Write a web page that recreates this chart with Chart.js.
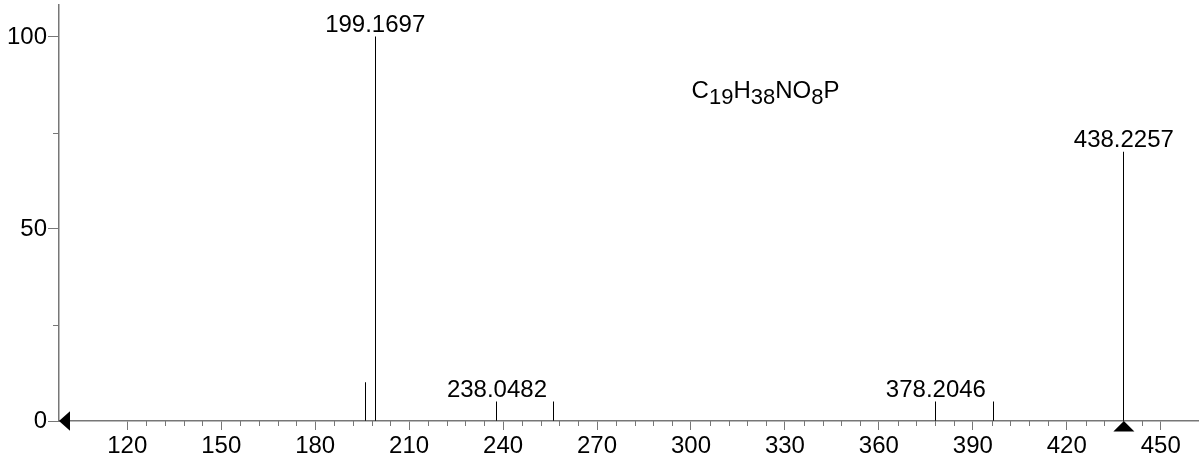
<!DOCTYPE html>
<html>
<head>
<meta charset="utf-8">
<script src="https://cdn.jsdelivr.net/npm/chart.js@4.4.1/dist/chart.umd.min.js"></script>
<style>
  html, body { margin: 0; padding: 0; background: #fff; }
  #wrap { width: 1200px; height: 465px; position: relative; }
</style>
</head>
<body>
<div id="wrap"><canvas id="c" width="1200" height="465"></canvas></div>
<script>
// ---- data ----
const mzValues     = [196.2, 199.1697, 238.0482, 256.2, 378.2046, 396.5, 438.2257];
const intensities  = [10, 100, 5, 5, 5, 5, 70];
const peakLabels   = ['', '199.1697', '238.0482', '', '378.2046', '', '438.2257'];
const xTickValues  = [120, 150, 180, 210, 240, 270, 300, 330, 360, 390, 420, 450];
const xMinorStep   = 6;
const yTickValues  = [0, 50, 100];
const yMinorValues = [25, 75];
const precursorMz  = 438.2257;
const formulaParts = [['C', false], ['19', true], ['H', false], ['38', true], ['NO', false], ['8', true], ['P', false]];
const formulaPos   = [300.2, 84];

const FONT = '"Liberation Sans", Arial, Helvetica, sans-serif';
const AXIS_COLOR = '#777777';

// keep the 1px peak bars crisp (snap thin bar rectangles to whole pixels)
const crispBars = {
  id: 'crispBars',
  beforeDatasetsDraw(chart) {
    const ctx = chart.ctx;
    const orig = ctx.rect;
    ctx._origRect = orig;
    ctx.rect = function (x, y, w, h) {
      if (Math.abs(w) < 3) {
        return orig.call(this, Math.floor(x + w / 2), y, 1, h);
      }
      return orig.call(this, x, y, w, h);
    };
  },
  afterDatasetsDraw(chart) {
    const ctx = chart.ctx;
    if (ctx._origRect) { ctx.rect = ctx._origRect; delete ctx._origRect; }
  }
};

const overlay = {
  id: 'overlay',
  afterDraw(chart) {
    const ctx = chart.ctx;
    const xs = chart.scales.x, ys = chart.scales.y;
    const y0 = ys.getPixelForValue(0);
    const xAxisX = xs.left;
    ctx.save();
    // minor ticks x
    ctx.strokeStyle = AXIS_COLOR;
    ctx.lineWidth = 1;
    ctx.beginPath();
    const first = xTickValues[0], last = xTickValues[xTickValues.length - 1];
    const n = Math.round((last - first) / xMinorStep);
    for (let k = 0; k <= n; k++) {
      const v = first + k * xMinorStep;
      if (xTickValues.includes(v)) continue;
      const px = Math.round(xs.getPixelForValue(v)) + 0.5;
      ctx.moveTo(px, y0);
      ctx.lineTo(px, y0 + 5);
    }
    // minor ticks y
    yMinorValues.forEach(v => {
      const py = Math.round(ys.getPixelForValue(v)) + 0.5;
      ctx.moveTo(xAxisX, py);
      ctx.lineTo(xAxisX - 6, py);
    });
    ctx.stroke();

    // peak labels
    ctx.fillStyle = '#000';
    ctx.font = '24px ' + FONT;
    ctx.textAlign = 'center';
    ctx.textBaseline = 'alphabetic';
    mzValues.forEach((m, i) => {
      if (!peakLabels[i]) return;
      ctx.fillText(peakLabels[i], xs.getPixelForValue(m), ys.getPixelForValue(intensities[i]) - 5);
    });

    // formula
    let fx = xs.getPixelForValue(formulaPos[0]);
    const fy = ys.getPixelForValue(formulaPos[1]);
    ctx.textAlign = 'left';
    formulaParts.forEach(([t, sub]) => {
      ctx.font = (sub ? '22px ' : '24px ') + FONT;
      ctx.fillText(t, fx, fy + (sub ? 6 : 0));
      fx += ctx.measureText(t).width;
    });

    // precursor triangle on x axis
    ctx.fillStyle = '#000';
    const tx = xs.getPixelForValue(precursorMz);
    ctx.beginPath();
    ctx.moveTo(tx, y0);
    ctx.lineTo(tx - 10.5, y0 + 10.5);
    ctx.lineTo(tx + 10.5, y0 + 10.5);
    ctx.closePath();
    ctx.fill();
    // left triangle at origin of y axis
    ctx.beginPath();
    ctx.moveTo(xAxisX, y0);
    ctx.lineTo(xAxisX + 11, y0 - 9.7);
    ctx.lineTo(xAxisX + 11, y0 + 9.7);
    ctx.closePath();
    ctx.fill();
    ctx.restore();
  }
};

new Chart(document.getElementById('c'), {
  type: 'bar',
  data: {
    datasets: [{
      data: mzValues.map((m, i) => ({ x: m, y: intensities[i] })),
      backgroundColor: '#000',
      borderWidth: 0,
      barThickness: 1
    }]
  },
  options: {
    responsive: false,
    animation: false,
    events: [],
    layout: { autoPadding: false, padding: { top: 5, right: 2, left: 0, bottom: 0 } },
    plugins: { legend: { display: false }, tooltip: { enabled: false } },
    scales: {
      x: {
        type: 'linear',
        min: 98.2,
        max: 461.9,
        offset: false,
        afterBuildTicks: s => { s.ticks = xTickValues.map(v => ({ value: v })); },
        afterFit: s => { s.height = 44; s.paddingLeft = 0; s.paddingRight = 0; },
        grid: { offset: false, drawOnChartArea: false, drawTicks: true, tickLength: 9, color: AXIS_COLOR, tickColor: AXIS_COLOR, tickWidth: 1 },
        border: { display: true, color: AXIS_COLOR, width: 1.5 },
        ticks: { color: '#000', font: { family: FONT, size: 24 }, padding: 2, maxRotation: 0, autoSkip: false }
      },
      y: {
        type: 'linear',
        min: 0,
        max: 108.3,
        afterBuildTicks: s => { s.ticks = yTickValues.map(v => ({ value: v })); },
        afterFit: s => { s.width = 59; s.paddingTop = 0; s.paddingBottom = 0; },
        grid: { offset: false, drawOnChartArea: false, drawTicks: true, tickLength: 11, color: AXIS_COLOR, tickColor: AXIS_COLOR, tickWidth: 1 },
        border: { display: true, color: AXIS_COLOR, width: 1.5 },
        ticks: { color: '#000', font: { family: FONT, size: 24 }, padding: 1 }
      }
    }
  },
  plugins: [crispBars, overlay]
});
</script>
</body>
</html>
